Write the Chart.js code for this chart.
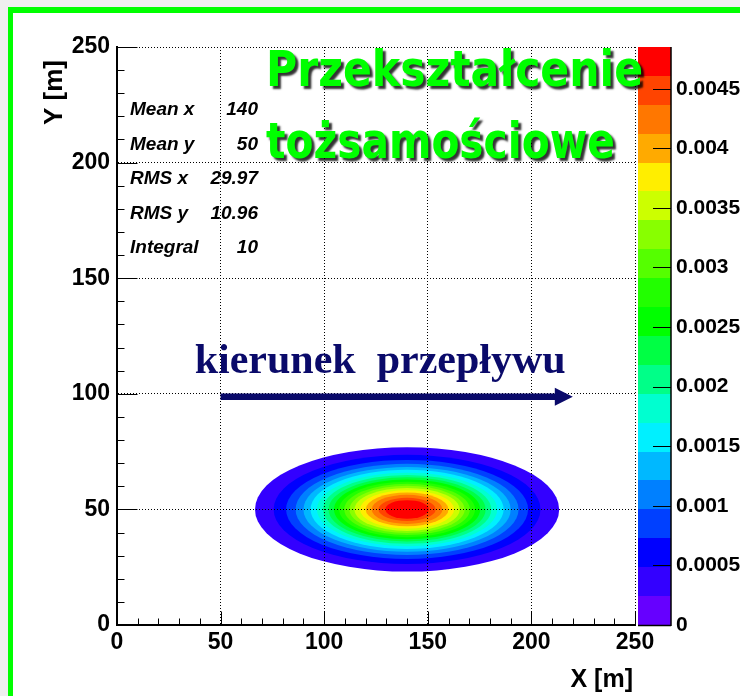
<!DOCTYPE html>
<html>
<head>
<meta charset="utf-8">
<script src="https://cdn.jsdelivr.net/npm/chart.js@4/dist/chart.umd.min.js"></script>
<style>
  html, body { margin: 0; padding: 0; background: #efefef; }
  canvas { display: block; }
</style>
</head>
<body>
<canvas id="chart" width="740" height="696"></canvas>
<script>
// Axis ticks
const xTicks = [0, 50, 100, 150, 200, 250];
const yTicks = [0, 50, 100, 150, 200, 250];
const zTicks = [0, 0.0005, 0.001, 0.0015, 0.002, 0.0025, 0.003, 0.0035, 0.004, 0.0045];
const zTickLabels = ['0', '0.0005', '0.001', '0.0015', '0.002', '0.0025', '0.003', '0.0035', '0.004', '0.0045'];
const zMax = 0.00485;

// Contour level edges (20 bands) and their palette colours
const zLevels = [0, 0.000243, 0.000485, 0.000728, 0.00097, 0.001213, 0.001455, 0.001698, 0.00194,
                 0.002183, 0.002425, 0.002668, 0.00291, 0.003153, 0.003395, 0.003638, 0.00388,
                 0.004123, 0.004365, 0.004608, 0.00485];
const bandColors = ['#6600ff', '#3300ff', '#0000ff', '#0040ff', '#0080ff', '#00b8ff', '#00f0ff',
                    '#00ffd0', '#00ff88', '#00ff44', '#00ff00', '#22ff00', '#55ff00', '#88ff00',
                    '#ccff00', '#ffee00', '#ffaa00', '#ff7700', '#ff4400', '#ff0000'];

// Iso-density contours of the distribution: centre and semi-axes (X [m], Y [m]) per level 1..19
const centerX = 140;
const centerY = 50;
const semiAxisX = [73.4, 64.4, 58.4, 53.8, 50.0, 46.6, 43.5, 40.6, 37.9, 35.3, 32.8, 30.3, 27.8, 25.4, 22.7, 20.0, 17.1, 13.8, 10.5];
const semiAxisY = [26.9, 23.6, 21.4, 19.7, 18.3, 17.1, 15.9, 14.9, 13.9, 12.9, 12.0, 11.1, 10.2, 9.3, 8.3, 7.3, 6.3, 5.0, 4.0];

// Statistics box
const statsLabels = ['Mean x', 'Mean y', 'RMS x', 'RMS y', 'Integral'];
const statsValues = ['140', '50', '29.97', '10.96', '10'];

// Flow direction annotation (data coordinates)
const flowText = 'kierunek  przepływu';
const flowTextAt = [37.5, 109];
const arrowFrom = [50, 98.7];
const arrowTo = [220, 98.7];

const titleLines = ['Przekształcenie', 'tożsamościowe'];

const SANS = "'Liberation Sans', Arial, Helvetica, sans-serif";

function minorValues(major, parts) {
  const out = [];
  for (let i = 0; i < major.length - 1; i++) {
    const step = (major[i + 1] - major[i]) / parts;
    for (let j = 1; j < parts; j++) out.push(major[i] + j * step);
  }
  return out;
}

const decor = {
  id: 'decor',
  beforeDraw(chart) {
    const c = chart.ctx, W = chart.width, H = chart.height;
    c.save();
    c.fillStyle = '#efefef';
    c.fillRect(0, 0, W, H);
    c.fillStyle = '#ffffff';
    c.fillRect(13, 13, W, H);
    c.fillStyle = '#00ff00';
    c.fillRect(8, 7, W, 6);
    c.fillRect(8, 7, 5, H);
    c.restore();
  },
  beforeDatasetsDraw(chart) {
    const c = chart.ctx;
    const { x, y, z } = chart.scales;
    const a = chart.chartArea;
    c.save();
    c.beginPath();
    c.rect(a.left, a.top, a.right - a.left, a.bottom - a.top);
    c.clip();
    const px = x.getPixelForValue(centerX);
    const py = y.getPixelForValue(centerY);
    for (let k = 0; k < semiAxisX.length; k++) {
      const rx = x.getPixelForValue(centerX + semiAxisX[k]) - px;
      const ry = py - y.getPixelForValue(centerY + semiAxisY[k]);
      c.fillStyle = bandColors[k + 1];
      c.beginPath();
      c.ellipse(px, py, rx, ry, 0, 0, Math.PI * 2);
      c.fill();
    }
    c.restore();

    // palette bar
    c.save();
    const x0 = z.left + 3, x1 = z.left + 36;
    for (let k = 0; k < bandColors.length; k++) {
      const yTop = Math.round(z.getPixelForValue(zLevels[k + 1]));
      const yBot = Math.round(z.getPixelForValue(zLevels[k]));
      c.fillStyle = bandColors[k];
      c.fillRect(x0, yTop, x1 - x0, yBot - yTop);
    }
    c.restore();
  },
  afterDraw(chart) {
    const c = chart.ctx;
    const { x, y, z } = chart.scales;
    const a = chart.chartArea;

    // axis tick marks (drawn inward)
    c.save();
    c.strokeStyle = '#000';
    c.lineWidth = 1;
    c.beginPath();
    const yb = Math.round(a.bottom) - 0.5;
    xTicks.forEach(v => { const p = Math.round(x.getPixelForValue(v)) + 0.5; c.moveTo(p, yb); c.lineTo(p, yb - 13); });
    minorValues(xTicks, 5).forEach(v => { const p = Math.round(x.getPixelForValue(v)) + 0.5; c.moveTo(p, yb); c.lineTo(p, yb - 6); });
    const xl = Math.round(a.left) + 0.5;
    yTicks.forEach(v => { const p = Math.round(y.getPixelForValue(v)) + 0.5; c.moveTo(xl, p); c.lineTo(xl + 20, p); });
    minorValues(yTicks, 5).forEach(v => { const p = Math.round(y.getPixelForValue(v)) + 0.5; c.moveTo(xl, p); c.lineTo(xl + 7, p); });
    c.stroke();

    // palette frame and ticks
    const bx0 = z.left + 3, bx1 = z.left + 36;
    const bTop = Math.round(z.getPixelForValue(zMax));
    const bBot = Math.round(z.getPixelForValue(0));
    c.lineWidth = 1.5;
    c.beginPath();
    c.moveTo(bx1, bTop);
    c.lineTo(bx1, bBot + 1);
    c.moveTo(bx0, bBot + 0.5);
    c.lineTo(bx1, bBot + 0.5);
    c.stroke();
    c.lineWidth = 1.2;
    c.beginPath();
    zTicks.forEach(v => { const p = Math.round(z.getPixelForValue(v)) + 0.5; c.moveTo(bx1 - 18, p); c.lineTo(bx1, p); });
    c.stroke();
    c.restore();

    // axis titles
    c.save();
    c.fillStyle = '#000';
    c.font = 'bold 25px ' + SANS;
    c.textAlign = 'right';
    c.textBaseline = 'alphabetic';
    c.fillText('X [m]', a.right - 2, 687);
    c.translate(62, 125);
    c.rotate(-Math.PI / 2);
    c.textAlign = 'left';
    c.font = 'bold 26px ' + SANS;
    c.fillText('Y [m]', 0, 0);
    c.restore();

    // statistics
    c.save();
    c.fillStyle = '#000';
    c.font = 'italic bold 19px ' + SANS;
    c.textBaseline = 'alphabetic';
    statsLabels.forEach((t, i) => {
      const by = 115 + i * 34.5;
      c.textAlign = 'left';
      c.fillText(t, a.left + 13, by);
      c.textAlign = 'right';
      c.fillText(statsValues[i], a.left + 141, by);
    });
    c.restore();

    // title with drop shadow
    c.save();
    c.font = "bold 50px 'DejaVu Sans', Verdana, sans-serif";
    c.textAlign = 'left';
    c.textBaseline = 'alphabetic';
    c.shadowColor = 'rgba(0,0,0,0.8)';
    c.shadowOffsetX = 3;
    c.shadowOffsetY = 3;
    c.shadowBlur = 2;
    c.fillStyle = '#00ff00';
    c.fillText(titleLines[0], 266, 86, 377);
    c.fillText(titleLines[1], 266, 158, 349);
    c.restore();

    // flow direction
    c.save();
    c.fillStyle = '#0a0a6a';
    c.strokeStyle = '#0a0a6a';
    c.font = "bold 42px 'Liberation Serif', 'Times New Roman', serif";
    c.textBaseline = 'alphabetic';
    c.fillText(flowText, x.getPixelForValue(flowTextAt[0]), y.getPixelForValue(flowTextAt[1]));
    const ax0 = x.getPixelForValue(arrowFrom[0]);
    const ax1 = x.getPixelForValue(arrowTo[0]);
    const ay = y.getPixelForValue(arrowFrom[1]);
    const head = 18;
    c.lineWidth = 6.5;
    c.beginPath();
    c.moveTo(ax0, ay);
    c.lineTo(ax1 - head + 2, ay);
    c.stroke();
    c.beginPath();
    c.moveTo(ax1, ay);
    c.lineTo(ax1 - head, ay - 9);
    c.lineTo(ax1 - head, ay + 9);
    c.closePath();
    c.fill();
    c.restore();
  }
};

const tickFont = { family: SANS, size: 23, weight: 'bold' };

new Chart(document.getElementById('chart'), {
  type: 'scatter',
  data: { datasets: [] },
  options: {
    responsive: false,
    animation: false,
    events: [],
    layout: { padding: { top: 47, left: 0, right: 0, bottom: 0 } },
    plugins: { legend: { display: false }, tooltip: { enabled: false }, title: { display: false } },
    scales: {
      x: {
        type: 'linear', position: 'bottom', display: true, min: 0, max: 250,
        afterBuildTicks: s => { s.ticks = xTicks.map(v => ({ value: v })); },
        afterFit: s => { s.height = 71; },
        ticks: { font: tickFont, color: '#000', padding: 4, maxRotation: 0, autoSkip: false },
        grid: { color: '#000', lineWidth: 1, drawTicks: false, z: 1 },
        border: { display: true, color: '#000', width: 2, dash: [1, 2], z: 2 }
      },
      y: {
        type: 'linear', position: 'left', display: true, min: 0, max: 250,
        afterBuildTicks: s => { s.ticks = yTicks.map(v => ({ value: v })); },
        afterFit: s => { s.width = 117; },
        ticks: { font: tickFont, color: '#000', padding: 7, autoSkip: false },
        grid: { color: '#000', lineWidth: 1, drawTicks: false, z: 1 },
        border: { display: true, color: '#000', width: 2, dash: [1, 2], z: 2 }
      },
      z: {
        type: 'linear', axis: 'y', position: 'right', display: true, min: 0, max: zMax,
        afterBuildTicks: s => { s.ticks = zTicks.map(v => ({ value: v })); },
        afterFit: s => { s.width = 105; },
        ticks: {
          font: { family: SANS, size: 21, weight: 'bold' }, color: '#000', padding: 4, autoSkip: false,
          callback: (v, i) => zTickLabels[i]
        },
        grid: { drawOnChartArea: false, drawTicks: true, tickLength: 37, tickColor: 'rgba(0,0,0,0)' },
        border: { display: false }
      }
    }
  },
  plugins: [decor]
});
</script>
</body>
</html>
